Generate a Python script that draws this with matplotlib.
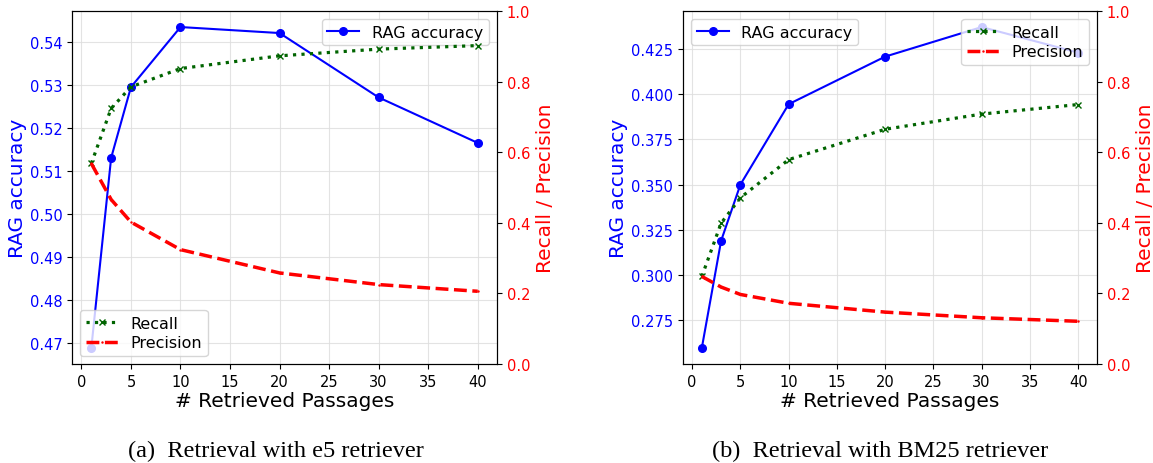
import matplotlib
matplotlib.use("Agg")
import matplotlib.pyplot as plt

# ---- data ----
k = [1, 3, 5, 10, 20, 30, 40]

e5_acc = [0.4688, 0.5131, 0.5296, 0.5436, 0.5422, 0.5272, 0.5166]
e5_recall = [0.568, 0.724, 0.785, 0.837, 0.873, 0.892, 0.902]
e5_prec = [0.568, 0.466, 0.402, 0.324, 0.258, 0.225, 0.206]

bm25_acc = [0.2593, 0.3188, 0.3500, 0.3946, 0.4210, 0.4374, 0.4232]
bm25_recall = [0.248, 0.399, 0.471, 0.579, 0.665, 0.708, 0.735]
bm25_prec = [0.248, 0.218, 0.197, 0.172, 0.147, 0.131, 0.121]

captions = ["(a)  Retrieval with e5 retriever", "(b)  Retrieval with BM25 retriever"]

W, H = 1153, 464
fig = plt.figure(figsize=(W / 100, H / 100), dpi=100)

panels = [
    dict(rect=[72, 12, 425, 353], acc=e5_acc, rec=e5_recall, prec=e5_prec,
         acc_loc="upper right", rp_loc="lower left", cap_x=276,
         yticks=[0.47, 0.48, 0.49, 0.50, 0.51, 0.52, 0.53, 0.54], fmt="{:.2f}"),
    dict(rect=[683, 12, 414, 353], acc=bm25_acc, rec=bm25_recall, prec=bm25_prec,
         acc_loc="upper left", rp_loc="upper right", cap_x=880,
         yticks=[0.275, 0.300, 0.325, 0.350, 0.375, 0.400, 0.425], fmt="{:.3f}"),
]

TICK = 10.5
LAB = 14.5
LEG = 11.5

for p, cap in zip(panels, captions):
    x0, y0, w, h = p["rect"]
    ax = fig.add_axes([x0 / W, 1 - (y0 + h) / H, w / W, h / H])
    ax2 = ax.twinx()

    l1, = ax.plot(k, p["acc"], color="blue", marker="o", markersize=5.5,
                  linewidth=1.5, label="RAG accuracy")
    l2, = ax2.plot(k, p["rec"], color="darkgreen", linestyle=":", linewidth=2.3,
                   marker="x", markersize=5, markeredgewidth=1, label="Recall")
    l3, = ax2.plot(k, p["prec"], color="red", linestyle="--", linewidth=2.5,
                   marker=".", markersize=1.5, label="Precision")

    ax.set_yticks(p["yticks"])
    ax.set_yticklabels([p["fmt"].format(v) for v in p["yticks"]])
    ax.set_xticks([0, 5, 10, 15, 20, 25, 30, 35, 40])
    ax2.set_ylim(0, 1.0)
    ax2.set_yticks([0.0, 0.2, 0.4, 0.6, 0.8, 1.0])

    ax.grid(True, color="#dddddd", linewidth=0.8, alpha=0.8)
    ax.tick_params(axis="y", labelcolor="blue", labelsize=TICK)
    ax.tick_params(axis="x", labelsize=TICK)
    ax2.tick_params(axis="y", labelcolor="red", labelsize=TICK)

    ax.set_xlabel("# Retrieved Passages", fontsize=LAB, labelpad=2)
    ax.set_ylabel("RAG accuracy", color="blue", fontsize=LAB, labelpad=2)
    ax2.set_ylabel("Recall / Precision", color="red", fontsize=LAB, labelpad=4)

    ax.legend(handles=[l1], loc=p["acc_loc"], fontsize=LEG,
              borderpad=0.35, handlelength=2.0)
    ax2.legend(handles=[l2, l3], loc=p["rp_loc"], fontsize=LEG,
               borderpad=0.35, handlelength=2.0, labelspacing=0.3)

    fig.text(p["cap_x"] / W, 1 - 451 / H, cap, ha="center", va="center",
             fontsize=17.5, family="Liberation Serif")

fig.savefig("out.png", dpi=100)
